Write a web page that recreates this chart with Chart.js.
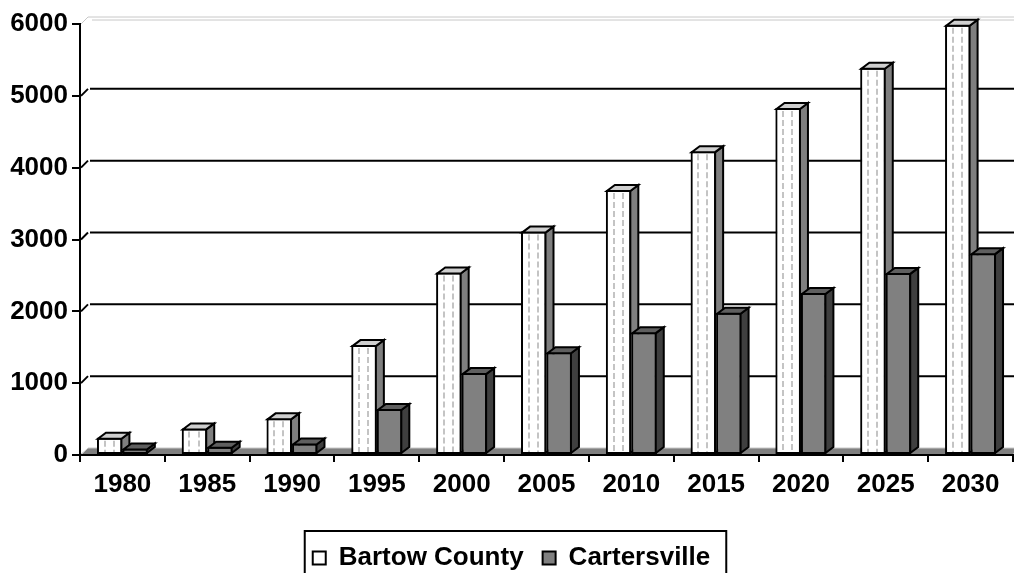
<!DOCTYPE html>
<html>
<head>
<meta charset="utf-8">
<style>
html,body{margin:0;padding:0;background:#fff;}
canvas{display:block;}
</style>
<script src="https://cdn.jsdelivr.net/npm/chart.js@4.4.1/dist/chart.umd.min.js"></script>
</head>
<body>
<canvas id="c" width="1014" height="573"></canvas>
<script>
// ---- data ----
const years = ['1980','1985','1990','1995','2000','2005','2010','2015','2020','2025','2030'];
const bartowCounty = [240, 370, 510, 1530, 2540, 3110, 3690, 4230, 4830, 5390, 5990];
const cartersville = [90, 115, 160, 640, 1140, 1430, 1710, 1980, 2255, 2535, 2810];
const yTicks = [0, 1000, 2000, 3000, 4000, 5000, 6000];
const seriesNames = ['Bartow County', 'Cartersville'];

const FONT = {family: "'Liberation Sans', Arial, sans-serif", size: 26, weight: 'bold'};
const DX = 8, DY = 6;   // bar depth offset
const WX = 8, WY = 7;   // wall depth offset

function poly(ctx, pts, fill, stroke, lw) {
  ctx.beginPath();
  ctx.moveTo(pts[0][0], pts[0][1]);
  for (let i = 1; i < pts.length; i++) ctx.lineTo(pts[i][0], pts[i][1]);
  ctx.closePath();
  if (fill) { ctx.fillStyle = fill; ctx.fill(); }
  if (stroke) { ctx.lineWidth = lw || 2; ctx.strokeStyle = stroke; ctx.lineJoin = 'miter'; ctx.stroke(); }
}

const styles = [
  {side: '#7f7f7f', top: '#cfcfcf', dashed: true},
  {side: '#3f3f3f', top: '#5f5f5f', dashed: false}
];

function drawBar(ctx, el, st) {
  const p = el.getProps(['x', 'y', 'base', 'width'], true);
  const x1 = p.x - p.width / 2, x2 = p.x + p.width / 2;
  const top = Math.min(p.y, p.base), base = Math.max(p.y, p.base);
  el.draw(ctx);
  ctx.save();
  if (st.dashed) {
    ctx.setLineDash([6, 3]);
    ctx.strokeStyle = '#c4c4c4';
    ctx.lineWidth = 2;
    [0.30, 0.66].forEach(f => {
      const xx = Math.round(x1 + f * p.width);
      ctx.beginPath();
      ctx.moveTo(xx, top + 3);
      ctx.lineTo(xx, base - 2);
      ctx.stroke();
    });
    ctx.setLineDash([]);
  }
  const L = x1 + 1, R = x2 - 1, T = top + 1, B = base - 1;
  poly(ctx, [[R, T], [R + DX, T - DY], [R + DX, B - DY], [R, B]], st.side, '#000', 2);
  poly(ctx, [[L, T], [R, T], [R + DX, T - DY], [L + DX, T - DY]], st.top, '#000', 2);
  ctx.restore();
}

const threeD = {
  id: 'threeD',
  afterLayout(chart) {
    const lg = chart.legend;
    if (lg) { lg.left += 5; lg.right += 5; }
  },
  beforeDatasetsDraw(chart) {
    const {ctx, chartArea: a, scales: {y}} = chart;
    ctx.save();
    const y0 = y.getPixelForValue(0);
    // floor
    poly(ctx, [[a.left + 1, y0 - 1], [a.right, y0 - 1], [a.right + WX, y0 - WY], [a.left + WX, y0 - WY]], '#808080', null);
    ctx.strokeStyle = '#c8c8c8';
    ctx.lineWidth = 1;
    ctx.beginPath();
    ctx.moveTo(a.left + 2, y0 - 1);
    ctx.lineTo(a.left + WX, y0 - WY);
    ctx.lineTo(chart.width, y0 - WY);
    ctx.stroke();
    // back-wall gridlines
    yTicks.forEach(v => {
      if (v === 0) return;
      const py = y.getPixelForValue(v);
      if (v === yTicks[yTicks.length - 1]) {
        ctx.strokeStyle = '#c8c8c8';
        ctx.lineWidth = 1;
        ctx.beginPath();
        ctx.moveTo(a.left + 1, py);
        ctx.lineTo(a.left + WX, py - WY);
        ctx.lineTo(chart.width, py - WY);
        ctx.moveTo(a.left + WX + 4, py - WY + 3);
        ctx.lineTo(chart.width, py - WY + 3);
        ctx.stroke();
      } else {
        ctx.strokeStyle = '#000';
        ctx.lineWidth = 2;
        ctx.beginPath();
        ctx.moveTo(a.left + 1, py);
        ctx.lineTo(a.left + WX, py - WY);
        ctx.stroke();
        ctx.beginPath();
        ctx.moveTo(a.left + WX + 2, py - WY);
        ctx.lineTo(chart.width, py - WY);
        ctx.stroke();
      }
    });
    ctx.restore();
  },
  afterDatasetsDraw(chart) {
    const ctx = chart.ctx;
    const metas = [chart.getDatasetMeta(0), chart.getDatasetMeta(1)];
    for (let i = 0; i < years.length; i++) {
      metas.forEach((m, d) => { if (m.data[i]) drawBar(ctx, m.data[i], styles[d]); });
    }
  },
  afterDraw(chart) {
    const lg = chart.legend;
    if (!lg || !lg.legendHitBoxes || !lg.legendHitBoxes.length) return;
    const hb = lg.legendHitBoxes;
    const first = hb[0], last = hb[hb.length - 1];
    const cy = first.top + first.height / 2;
    const ctx = chart.ctx;
    ctx.save();
    ctx.strokeStyle = '#000';
    ctx.lineWidth = 2;
    ctx.strokeRect(first.left - 8, cy - 27, (last.left + last.width + 16) - (first.left - 8), 54);
    ctx.restore();
  }
};

new Chart(document.getElementById('c'), {
  type: 'bar',
  data: {
    labels: years,
    datasets: [
      {label: seriesNames[0], data: bartowCounty, backgroundColor: '#ffffff', borderColor: '#000', borderWidth: 2, borderSkipped: false},
      {label: seriesNames[1], data: cartersville, backgroundColor: '#808080', borderColor: '#000', borderWidth: 2, borderSkipped: false}
    ]
  },
  options: {
    responsive: false,
    animation: false,
    devicePixelRatio: 1,
    layout: {padding: {top: 24, left: 0, right: 1, bottom: -8}},
    datasets: {bar: {categoryPercentage: 0.6, barPercentage: 1.0}},
    plugins: {
      legend: {
        position: 'bottom',
        labels: {font: FONT, color: '#000', boxWidth: 13, boxHeight: 13, padding: 19}
      },
      tooltip: {enabled: false}
    },
    scales: {
      x: {
        grid: {display: true, drawOnChartArea: false, drawTicks: true, tickLength: 7, color: '#000', lineWidth: 2, offset: true},
        border: {display: true, color: '#000', width: 2},
        ticks: {font: FONT, color: '#000', padding: 7, maxRotation: 0, autoSkip: false},
        afterFit(s) { s.height = 71; }
      },
      y: {
        min: yTicks[0],
        max: yTicks[yTicks.length - 1],
        afterBuildTicks(s) { s.ticks = yTicks.map(v => ({value: v})); },
        grid: {display: true, drawOnChartArea: false, drawTicks: true, tickLength: 8, color: '#000', lineWidth: 2},
        border: {display: true, color: '#000', width: 2},
        ticks: {font: FONT, color: '#000', padding: 4, callback: v => String(v)},
        afterFit(s) { s.width = 80; }
      }
    }
  },
  plugins: [threeD]
});
</script>
</body>
</html>
